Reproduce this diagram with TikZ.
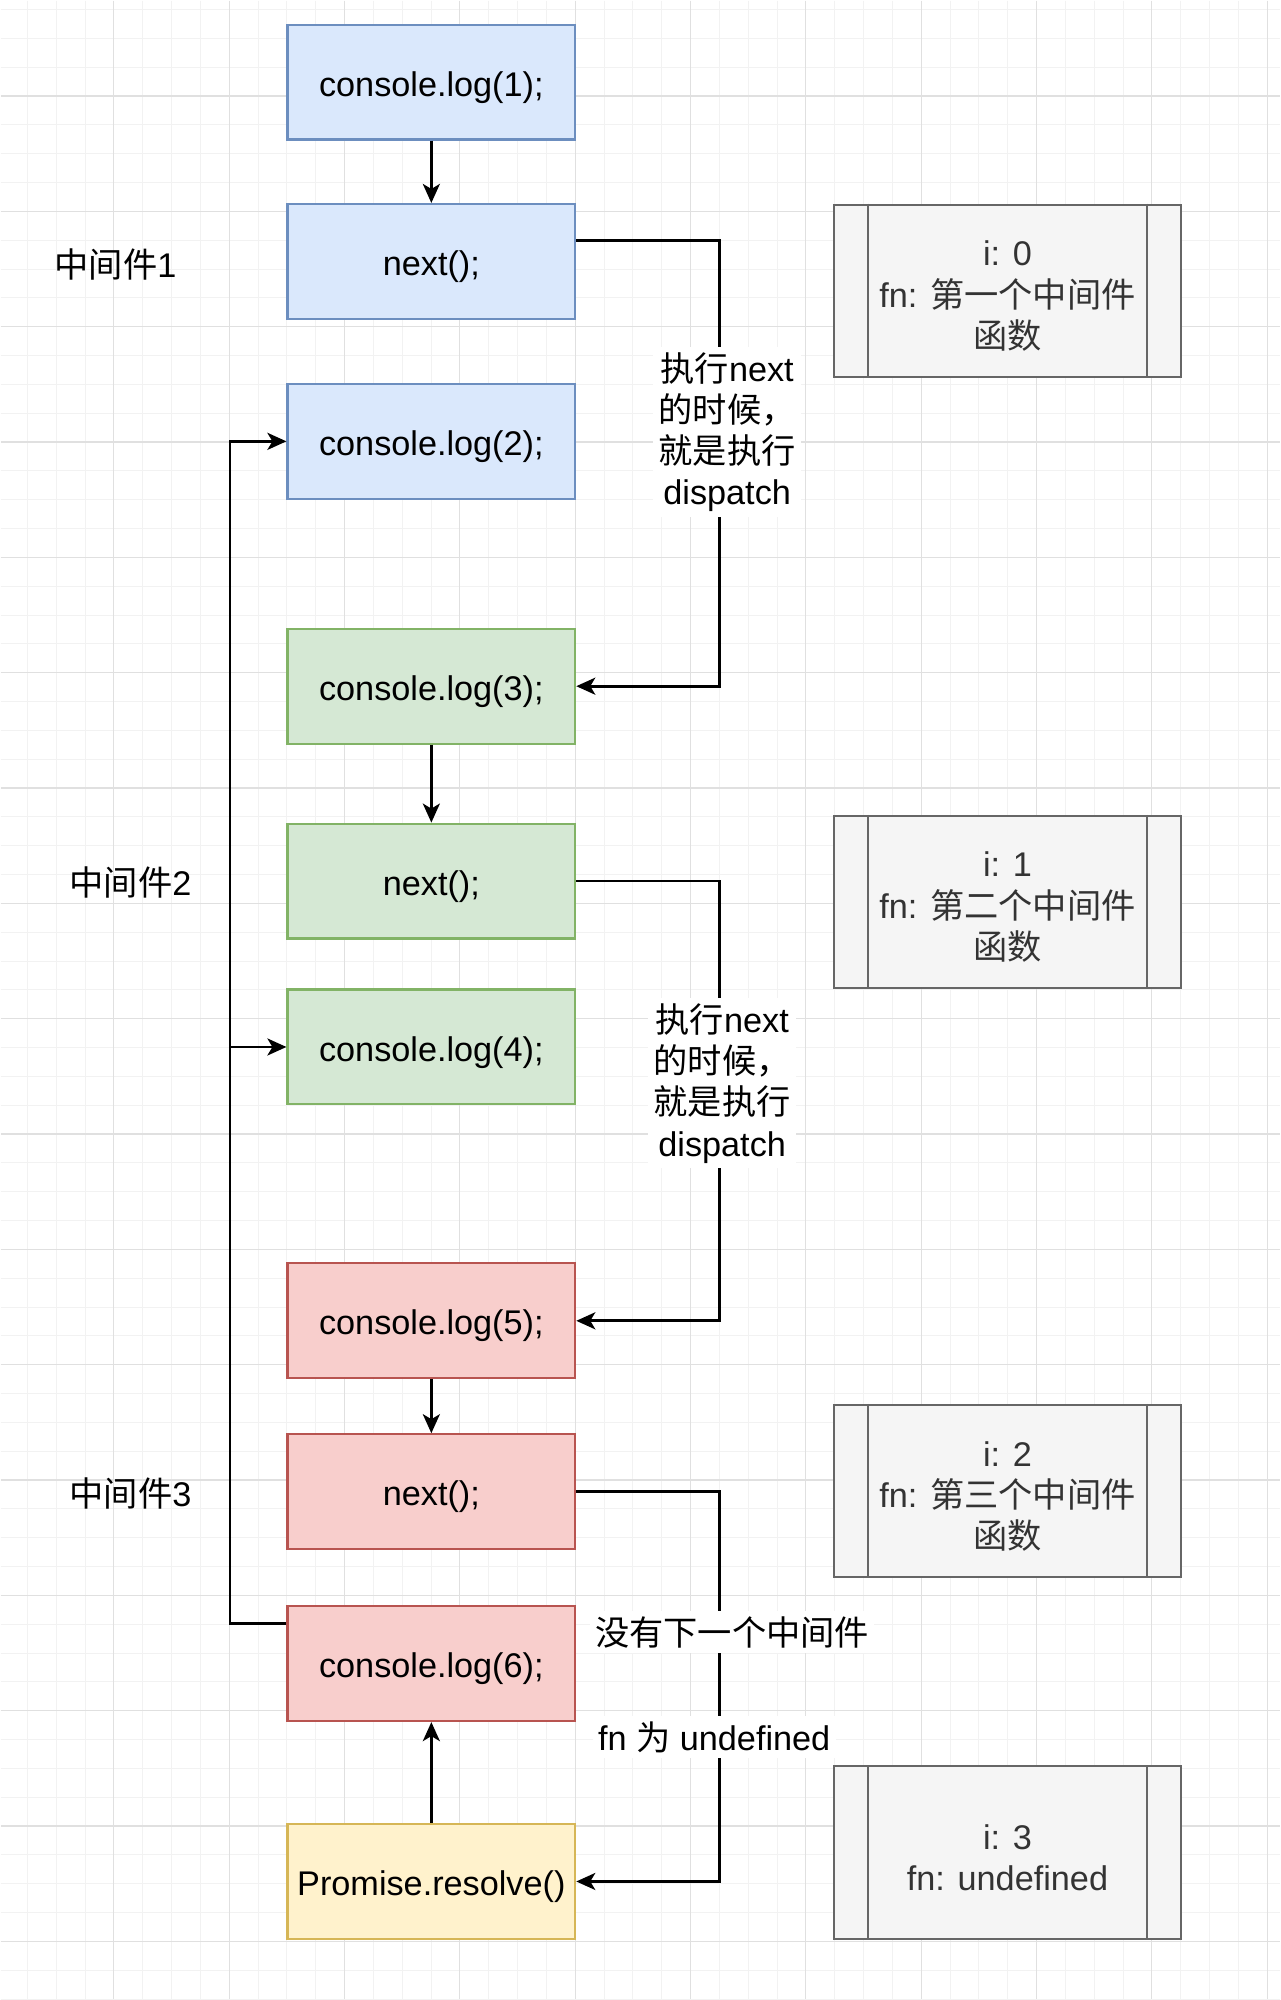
\documentclass[tikz,border=0pt]{standalone}
\usepackage{fontspec}
\setmainfont{Liberation Sans}
\newfontfamily\cjk{Noto Sans CJK SC}
\usetikzlibrary{arrows.meta}

\definecolor{bluefill}{HTML}{DAE8FC}
\definecolor{blueline}{HTML}{6C8EBF}
\definecolor{greenfill}{HTML}{D5E8D4}
\definecolor{greenline}{HTML}{82B366}
\definecolor{redfill}{HTML}{F8CECC}
\definecolor{redline}{HTML}{B85450}
\definecolor{yellowfill}{HTML}{FFF2CC}
\definecolor{yellowline}{HTML}{D6B656}
\definecolor{greyfill}{HTML}{F5F5F5}
\definecolor{greyline}{HTML}{666666}
\definecolor{greytext}{HTML}{333333}

\begin{document}
\begin{tikzpicture}[x=0.02cm, y=-0.02cm,
        font=\fontsize{19.5}{23.5}\selectfont,
        minorgrid/.style={draw=black!5, line width=0.5pt},
        majorgrid/.style={draw=black!12, line width=0.7pt},
        codebox/.style={draw, rectangle, line width=1.2pt, minimum width=5.76cm, minimum height=2.3cm, inner sep=0pt, text height=16pt, text depth=0pt},
        bluebox/.style={fill=bluefill, draw=blueline},
        greenbox/.style={fill=greenfill, draw=greenline},
        redbox/.style={fill=redfill, draw=redline},
        yellowbox/.style={fill=yellowfill, draw=yellowline},
        statebox/.style={draw=greyline, fill=greyfill, text=greytext, rectangle, line width=1.2pt, minimum width=6.94cm, minimum height=3.45cm, align=center, inner sep=0pt},
        greyedge/.style={draw=greyline, line width=1.2pt},
        flow/.style={-{Stealth[length=0.38cm, width=0.34cm, inset=0.1cm]}, line width=1.6pt},
        note/.style={fill=white, align=center, inner sep=3pt}]

        % background grid
        \fill[white] (0,0) rectangle (1280,2000);
        \foreach \gx in {26.75,55.6,...,1280}
            \draw[minorgrid] (\gx,0) -- (\gx,2000);
        \foreach \gy in {8.95,37.8,...,2000}
            \draw[minorgrid] (0,\gy) -- (1280,\gy);
        \foreach \gx in {113.3,228.7,...,1280}
            \draw[majorgrid] (\gx,0) -- (\gx,2000);
        \foreach \gy in {95.5,210.9,...,2000}
            \draw[majorgrid] (0,\gy) -- (1280,\gy);
        \useasboundingbox (0,0) rectangle (1280,2000);

        % middleware steps
        \node[codebox, bluebox] (log1) at (431,81.5) {console.log(1);};
        \node[codebox, bluebox] (next1) at (431,261) {next();};
        \node[codebox, bluebox] (log2) at (431,441) {console.log(2);};
        \node[codebox, greenbox] (log3) at (431,686) {console.log(3);};
        \node[codebox, greenbox] (next2) at (431,881) {next();};
        \node[codebox, greenbox] (log4) at (431,1047) {console.log(4);};
        \node[codebox, redbox] (log5) at (431,1321) {console.log(5);};
        \node[codebox, redbox] (next3) at (431,1492) {next();};
        \node[codebox, redbox] (log6) at (431,1664) {console.log(6);};
        \node[codebox, yellowbox] (resolve) at (431,1882) {Promise.resolve()};

        \node (mw1) at (115,264) {{\cjk 中间件}1};
        \node (mw2) at (130,882) {{\cjk 中间件}2};
        \node (mw3) at (130,1494) {{\cjk 中间件}3};

        % dispatch state
        \node[statebox] (st0) at (1007.5,290.5) {\rule{0pt}{20pt}i: 0\\fn: {\cjk 第一个中间件}\\{\cjk 函数}};
        \node[statebox] (st1) at (1007.5,902) {\rule{0pt}{20pt}i: 1\\fn: {\cjk 第二个中间件}\\{\cjk 函数}};
        \node[statebox] (st2) at (1007.5,1491.5) {\rule{0pt}{20pt}i: 2\\fn: {\cjk 第三个中间件}\\{\cjk 函数}};
        \node[statebox] (st3) at (1007.5,1853) {\rule{0pt}{20pt}i: 3\\fn: undefined};
        \foreach \s in {st0,st1,st2,st3}
            {
                \draw[greyedge] ([xshift=0.7cm]\s.north west) -- ([xshift=0.7cm]\s.south west);
                \draw[greyedge] ([xshift=-0.7cm]\s.north east) -- ([xshift=-0.7cm]\s.south east);
            }

        % connectors
        \foreach \a/\b in {log1/next1, log3/next2, log5/next3}
            \draw[flow] (\a) -- (\b);
        \draw[flow] (resolve) -- (log6);

        \coordinate (rbus) at (719,0);
        \coordinate (lbus) at (229.5,0);
        \draw[flow] ([yshift=0.42cm]next1.east) -- ([yshift=0.42cm]next1.east -| rbus)
            -- node[note, pos=0.43, xshift=0.16cm] {{\cjk 执行}next\\{\cjk 的时候，}\\{\cjk 就是执行}\\dispatch} (log3.east -| rbus)
            -- (log3.east);
        \draw[flow] (next2.east) -- (next2.east -| rbus)
            -- node[note, pos=0.46, xshift=0.06cm] {{\cjk 执行}next\\{\cjk 的时候，}\\{\cjk 就是执行}\\dispatch} (log5.east -| rbus)
            -- (log5.east);
        \draw[flow] (next3.east) -- (next3.east -| rbus)
            -- node[note, pos=0.36, xshift=0.26cm] {{\cjk 没有下一个中间件}}
               node[note, pos=0.63, xshift=-0.1cm] {fn {\cjk 为} undefined} (resolve.east -| rbus)
            -- (resolve.east);

        \draw[flow] ([yshift=0.8cm]log6.west) -| (lbus |- log2.west) -- (log2.west);
        \draw[flow] (lbus |- log4.west) -- (log4.west);
    \end{tikzpicture}
\end{document}
